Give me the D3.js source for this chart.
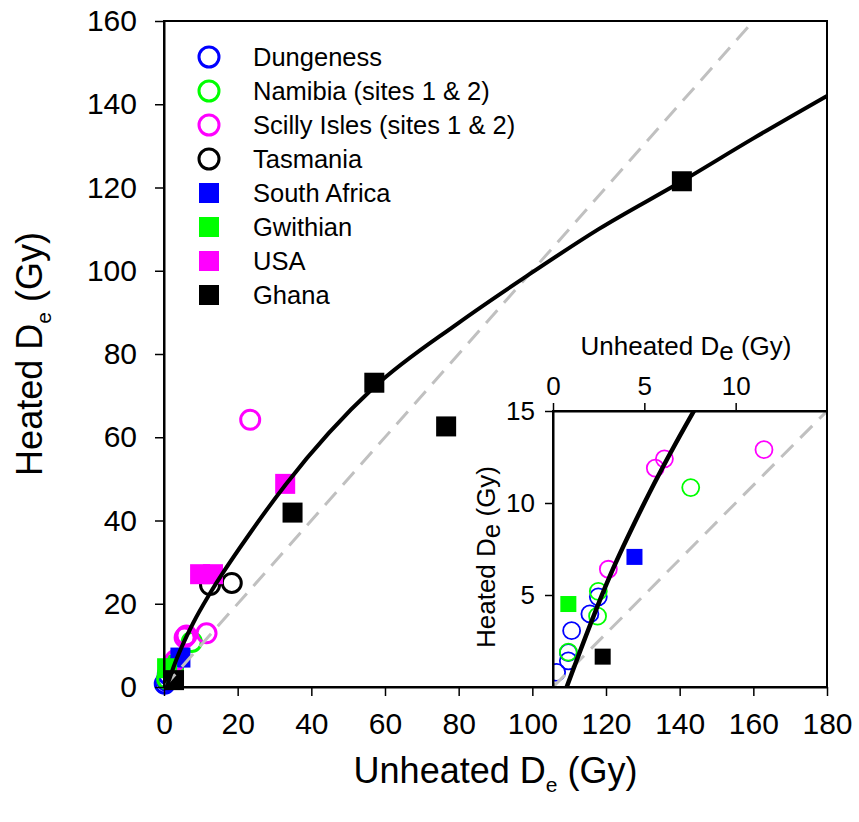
<!DOCTYPE html>
<html><head><meta charset="utf-8">
<script src="https://cdn.jsdelivr.net/npm/d3@7/dist/d3.min.js"></script>
<style>
body{margin:0;background:#fff}
svg text{font-family:"Liberation Sans",Arial,Helvetica,sans-serif;fill:#000}
</style>
</head><body>
<svg id="chart" width="859" height="822"></svg>
<script>
// ---------- data ----------
const seriesNames = ["Dungeness","Namibia (sites 1 & 2)","Scilly Isles (sites 1 & 2)","Tasmania","South Africa","Gwithian","USA","Ghana"];
const seriesColors = ["#0000ff","#00ff00","#ff00ff","#000000","#0000ff","#00ff00","#ff00ff","#000000"];
const seriesShapes = ["circle","circle","circle","circle","square","square","square","square"];

// [unheated De, heated De] (Gy)
const dungeness   = [[0.2,0.8],[0.84,1.42],[0.84,1.87],[1.02,3.06],[2.02,3.97],[2.48,4.9]];
const namibia     = [[0.84,1.9],[2.44,3.85],[2.48,5.2],[7.54,10.84]];
const scilly      = [[3.03,6.4],[5.6,11.9],[6.1,12.4],[11.55,12.9],[23.4,64.2]];
const tasmania    = [[12.5,24.5],[18.4,25.0]];
const southAfrica = [[4.46,7.07]];
const gwithian    = [[0.84,4.51]];
const usa         = [[9.8,27.1],[13.3,27.1],[32.9,48.8]];
const ghana       = [[2.72,1.65],[34.9,41.9],[57.1,73.1],[76.6,62.6],[140.6,121.5]];
const seriesData  = [dungeness,namibia,scilly,tasmania,southAfrica,gwithian,usa,ghana];

// fitted curve
const fitCurve = [[0.75,0],[3.1,6],[5,10],[8,15.5],[12.5,22.5],[23.4,37],[33,48.6],[57,72],[80,87.5],[98.6,98.8],[118,110],[140.6,121.5],[160,131.8],[180,142]];
const oneToOne = [[0,0],[180,180]];

const mainXTicks = [0,20,40,60,80,100,120,140,160,180];
const mainYTicks = [0,20,40,60,80,100,120,140,160];
const insetXTicks = [0,5,10];
const insetYTicks = [5,10,15];

// ---------- layout ----------
const svg = d3.select("#chart");
const M = {l:164, r:827, t:21, b:687};
const x = d3.scaleLinear().domain([0,180]).range([M.l,M.r]);
const y = d3.scaleLinear().domain([0,160]).range([M.b,M.t]);

const I = {l:553, r:827, t:411, b:687};
const xi = d3.scaleLinear().domain([0,15]).range([I.l,I.r]);
const yi = d3.scaleLinear().domain([0,15]).range([I.b,I.t]);

svg.append("defs").append("clipPath").attr("id","mainClip")
  .append("rect").attr("x",M.l).attr("y",M.t).attr("width",M.r-M.l).attr("height",M.b-M.t);
svg.select("defs").append("clipPath").attr("id","insetClip")
  .append("rect").attr("x",I.l).attr("y",I.t).attr("width",I.r-I.l).attr("height",I.b-I.t);

function drawMarkers(g, xs, ys, r, sw, sq){
  seriesData.forEach((data,i)=>{
    const col = seriesColors[i];
    if(seriesShapes[i]==="circle"){
      g.selectAll(null).data(data).enter().append("circle")
        .attr("cx",d=>xs(d[0])).attr("cy",d=>ys(d[1])).attr("r",r)
        .attr("fill","none").attr("stroke",col).attr("stroke-width",sw);
    } else {
      g.selectAll(null).data(data).enter().append("rect")
        .attr("x",d=>xs(d[0])-sq/2).attr("y",d=>ys(d[1])-sq/2)
        .attr("width",sq).attr("height",sq).attr("fill",col);
    }
  });
}

// ---------- main plot ----------
const main = svg.append("g");
drawMarkers(main, x, y, 9.5, 3, 20);

main.append("path").datum(oneToOne)
  .attr("clip-path","url(#mainClip)")
  .attr("d",d3.line().x(d=>x(d[0])).y(d=>y(d[1])))
  .attr("fill","none").attr("stroke","#c0c0c0").attr("stroke-width",3)
  .attr("stroke-dasharray","17,10");

main.append("path").datum(fitCurve)
  .attr("clip-path","url(#mainClip)")
  .attr("d",d3.line().curve(d3.curveMonotoneX).x(d=>x(d[0])).y(d=>y(d[1])))
  .attr("fill","none").attr("stroke","#000").attr("stroke-width",4);

// frame
svg.append("rect").attr("x",M.l).attr("y",M.t).attr("width",M.r-M.l).attr("height",M.b-M.t)
  .attr("fill","none").attr("stroke","#000").attr("stroke-width",2);

const xAxis = svg.append("g").attr("transform",`translate(0,${M.b})`)
  .call(d3.axisBottom(x).tickValues(mainXTicks).tickFormat(d3.format("d")).tickSize(9).tickSizeOuter(0).tickPadding(17));
const yAxis = svg.append("g").attr("transform",`translate(${M.l},0)`)
  .call(d3.axisLeft(y).tickValues(mainYTicks).tickFormat(d3.format("d")).tickSize(9).tickSizeOuter(0).tickPadding(18));
[xAxis,yAxis].forEach(a=>{
  a.attr("font-size",30).attr("font-family",null);
  a.select(".domain").attr("stroke-width",2);
  a.selectAll(".tick line").attr("stroke-width",1.5);
});

// axis titles
const xt = svg.append("text").attr("x",(M.l+M.r)/2).attr("y",783).attr("text-anchor","middle").attr("font-size",36);
xt.append("tspan").text("Unheated D");
xt.append("tspan").attr("font-size",21).attr("dy",9).text("e");
xt.append("tspan").attr("dy",-9).text(" (Gy)");

const yt = svg.append("text").attr("transform",`translate(42,${(M.t+M.b)/2}) rotate(-90)`)
  .attr("text-anchor","middle").attr("font-size",36);
yt.append("tspan").text("Heated D");
yt.append("tspan").attr("font-size",21).attr("dy",9).text("e");
yt.append("tspan").attr("dy",-9).text(" (Gy)");

// ---------- legend ----------
const legend = svg.append("g");
seriesNames.forEach((name,i)=>{
  const cy = 57 + i*34;
  if(seriesShapes[i]==="circle"){
    legend.append("circle").attr("cx",209).attr("cy",cy).attr("r",10)
      .attr("fill","none").attr("stroke",seriesColors[i]).attr("stroke-width",3);
  } else {
    legend.append("rect").attr("x",199).attr("y",cy-10).attr("width",20).attr("height",20)
      .attr("fill",seriesColors[i]);
  }
  legend.append("text").attr("x",253).attr("y",cy).attr("dy","0.36em").attr("font-size",25.5).text(name);
});

// ---------- inset ----------
const inset = svg.append("g");
inset.append("rect").attr("x",I.l).attr("y",I.t).attr("width",I.r-I.l).attr("height",I.b-I.t)
  .attr("fill","#fff");
const inner = inset.append("g").attr("clip-path","url(#insetClip)");
drawMarkers(inner, xi, yi, 8.5, 1.8, 16);
inner.append("path").datum(oneToOne)
  .attr("d",d3.line().x(d=>xi(d[0])).y(d=>yi(d[1])))
  .attr("fill","none").attr("stroke","#c0c0c0").attr("stroke-width",3)
  .attr("stroke-dasharray","17,10");
inner.append("path").datum(fitCurve)
  .attr("d",d3.line().curve(d3.curveMonotoneX).x(d=>xi(d[0])).y(d=>yi(d[1])))
  .attr("fill","none").attr("stroke","#000").attr("stroke-width",4.5);
inset.append("rect").attr("x",I.l).attr("y",I.t).attr("width",I.r-I.l).attr("height",I.b-I.t)
  .attr("fill","none").attr("stroke","#000").attr("stroke-width",2);

const ixAxis = inset.append("g").attr("transform",`translate(0,${I.t})`)
  .call(d3.axisTop(xi).tickValues(insetXTicks).tickFormat(d3.format("d")).tickSize(8).tickSizeOuter(0).tickPadding(8));
const iyAxis = inset.append("g").attr("transform",`translate(${I.l},0)`)
  .call(d3.axisLeft(yi).tickValues(insetYTicks).tickFormat(d3.format("d")).tickSize(8).tickSizeOuter(0).tickPadding(10));
[ixAxis,iyAxis].forEach(a=>{
  a.attr("font-size",26).attr("font-family",null);
  a.select(".domain").attr("stroke-width",2);
  a.selectAll(".tick line").attr("stroke-width",1.5);
});

const ixt = inset.append("text").attr("x",686).attr("y",355).attr("text-anchor","middle").attr("font-size",26);
ixt.append("tspan").text("Unheated D");
ixt.append("tspan").attr("dy",5).text("e");
ixt.append("tspan").attr("dy",-5).text(" (Gy)");

const iyt = inset.append("text").attr("transform",`translate(495,557) rotate(-90)`)
  .attr("text-anchor","middle").attr("font-size",26);
iyt.append("tspan").text("Heated D");
iyt.append("tspan").attr("dy",5).text("e");
iyt.append("tspan").attr("dy",-5).text(" (Gy)");
</script>
</body></html>
